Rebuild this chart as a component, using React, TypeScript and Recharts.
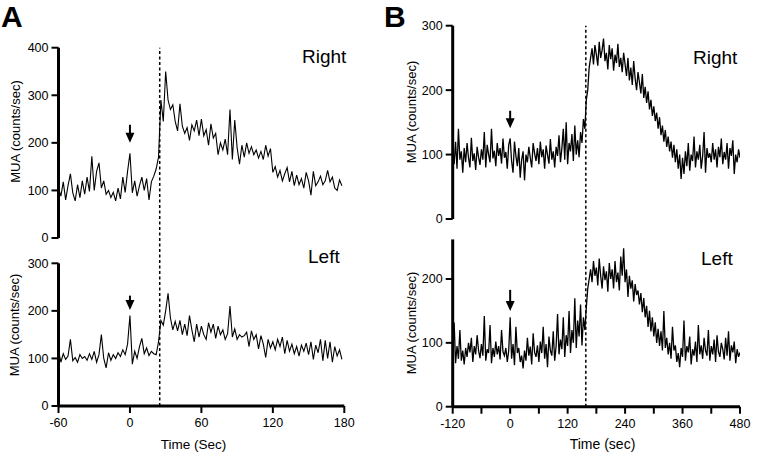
import React from 'react';
import { LineChart, Line, XAxis, YAxis, ReferenceLine } from 'recharts';

// sampling grids (seconds)
const A_START = -60;
const A_STEP = 2;
const B_START = -120;
const B_STEP = 3;

// Panel A, right hemisphere (counts/sec)
const A_RIGHT = [
  105, 88, 118, 80, 110, 135, 95, 78, 112, 85,
  120, 92, 128, 98, 172, 100, 140, 158, 105, 120,
  92, 100, 85, 96, 78, 105, 82, 128, 96, 140,
  178, 95, 120, 88, 110, 128, 100, 125, 80, 118,
  130, 145, 170, 290, 245, 350, 290, 270, 280, 245,
  225, 282, 235, 220, 232, 205, 238, 225, 248, 215,
  250, 215, 228, 195, 240, 210, 220, 175, 200, 185,
  208, 175, 270, 165, 248, 190, 155, 195, 170, 200,
  178, 192, 175, 185, 168, 182, 165, 195, 172, 188,
  138, 150, 128, 142, 120, 135, 148, 118, 140, 110,
  132, 112, 125, 105, 138, 120, 90, 140, 110, 118,
  130, 112, 120, 142, 118, 128, 105, 100, 122, 110,
];

// Panel A, left hemisphere
const A_LEFT = [
  118, 92, 110, 98, 105, 140, 95, 102, 92, 108,
  100, 104, 96, 110, 98, 115, 92, 108, 150, 100,
  80, 112, 96, 108, 100, 112, 104, 118, 108, 130,
  190, 88, 115, 100, 125, 142, 110, 122, 106, 115,
  110, 108, 135, 180, 170, 200, 237, 185, 160, 178,
  158, 180, 150, 172, 148, 190, 160, 135, 172, 145,
  168, 150, 140, 175, 155, 172, 142, 168, 150, 160,
  140, 152, 210, 145, 162, 140, 150, 145, 148, 155,
  125, 158, 140, 150, 120, 148, 130, 102, 140, 122,
  135, 118, 140, 125, 145, 110, 138, 115, 130, 110,
  125, 105, 128, 115, 132, 108, 135, 98, 128, 112,
  140, 95, 138, 100, 135, 92, 125, 105, 118, 98,
];

// Panel B, right hemisphere
const B_RIGHT = [
  100, 85, 120, 78, 140, 92, 105, 72, 110, 88,
  118, 95, 80, 126, 90, 102, 76, 112, 96, 84,
  108, 92, 135, 80, 115, 100, 88, 140, 94, 106,
  82, 118, 98, 110, 86, 125, 95, 104, 78, 115,
  125, 90, 72, 120, 98, 82, 110, 64, 92, 105,
  60, 100, 88, 112, 95, 80, 118, 102, 90, 110,
  85, 120, 96, 108, 78, 114, 100, 86, 124, 92,
  105, 80, 112, 98, 130, 88, 110, 140, 92, 150,
  85, 118, 105, 132, 90, 145, 100, 122, 96, 135,
  118, 155, 140, 185, 200, 235, 250, 265, 240, 270,
  255, 238, 275, 250, 262, 280, 245, 258, 232, 270,
  248, 265, 230, 255, 242, 272, 236, 250, 228, 258,
  240, 222, 250, 215, 235, 208, 245, 218, 200, 228,
  212, 195, 225, 188, 205, 180, 198, 170, 185, 160,
  175, 152, 165, 140, 158, 130, 145, 120, 138, 112,
  128, 105, 120, 95, 115, 88, 108, 78, 100, 62,
  95, 70, 105, 82, 118, 75, 100, 90, 128, 80,
  105, 92, 115, 78, 98, 135, 72, 110, 95, 102,
  88, 118, 92, 108, 80, 112, 96, 125, 85, 104,
  92, 118, 78, 110, 98, 122, 70, 100, 88, 108,
  95,
];

// Panel B, left hemisphere
const B_LEFT = [
  80, 132, 68, 95, 75, 120, 72, 88, 66, 92,
  78, 100, 85, 108, 70, 95, 82, 112, 88, 76,
  98, 80, 142, 72, 90, 84, 128, 68, 92, 78,
  102, 82, 95, 74, 120, 86, 80, 92, 70, 88,
  140, 75, 98, 65, 125, 84, 92, 70, 80, 60,
  88, 72, 108, 80, 94, 66, 115, 85, 78, 96,
  70, 102, 84, 125, 75, 98, 62, 110, 88, 80,
  118, 72, 95, 145, 82, 105, 90, 140, 78, 112,
  95, 150, 84, 120, 100, 170, 92, 135, 110, 160,
  96, 140, 120, 155, 185, 200, 215, 195, 228, 205,
  218, 190, 232, 205, 185, 220, 198, 212, 180, 225,
  200, 215, 185, 228, 195, 210, 182, 235, 205, 248,
  195, 215, 172, 205, 185, 198, 165, 192, 175, 182,
  160, 178, 148, 170, 140, 158, 125, 150, 118, 140,
  110, 132, 100, 122, 95, 118, 88, 150, 92, 108,
  82, 100, 75, 125, 88, 96, 70, 84, 62, 92,
  78, 135, 72, 95, 85, 110, 66, 90, 80, 102,
  70, 128, 82, 96, 75, 108, 88, 80, 120, 72,
  95, 82, 105, 70, 112, 86, 78, 100, 90, 74,
  108, 80, 118, 72, 96, 85, 102, 68, 90, 78,
  85,
];

const A_X_TICKS = [-60, 0, 60, 120, 180];
const B_X_TICKS = [-120, -60, 0, 60, 120, 180, 240, 300, 360, 420, 480];
const STIM_A = 25;
const STIM_B = 158;

const W = 766;
const H = 456;
const FONT = '"Liberation Sans", Arial, Helvetica, sans-serif';
const Y_W = 50;
const X_H = 30;

const toRows = (vals: number[], start: number, step: number) =>
  vals.map((v, i) => ({ t: start + i * step, v }));

const Arrow = (p: any) => {
  const x = p.x1;
  const top = Math.min(p.y1, p.y2);
  const tip = Math.max(p.y1, p.y2);
  return (
    <g>
      <line x1={x} x2={x} y1={top} y2={tip - 6} stroke="#000" strokeWidth={2} />
      <polygon points={`${x - 4.5},${tip - 10} ${x + 4.5},${tip - 10} ${x},${tip}`} fill="#000" />
    </g>
  );
};

type Rect = { left: number; top: number; right: number; bottom: number };

const Trace = ({
  rows, xDomain, xTicks, yDomain, yTicks, rect, showX, stimX, stimTo, arrow, xLabelEvery, lineW,
}: {
  rows: { t: number; v: number }[];
  xDomain: [number, number];
  xTicks: number[];
  yDomain: [number, number];
  yTicks: number[];
  rect: Rect;
  showX: boolean;
  stimX: number;
  stimTo?: number;
  arrow: [number, number];
  xLabelEvery?: number;
  lineW: number;
}) => {
  const margin = {
    left: rect.left - Y_W,
    top: rect.top,
    right: W - rect.right,
    bottom: H - rect.bottom - (showX ? X_H : 0),
  };
  return (
    <div style={{ position: 'absolute', left: 0, top: 0 }}>
      <LineChart width={W} height={H} data={rows} margin={margin}>
        <XAxis
          dataKey="t"
          type="number"
          domain={xDomain}
          ticks={xTicks}
          interval={0}
          allowDataOverflow
          hide={!showX}
          height={X_H}
          axisLine={{ stroke: '#000', strokeWidth: 3 }}
          tickLine={{ stroke: '#000', strokeWidth: 2 }}
          tickSize={7}
          tickMargin={5}
          tick={{ fill: '#000', fontSize: 12.5, fontFamily: FONT }}
          tickFormatter={(v: number) => (xLabelEvery && v % xLabelEvery !== 0 ? '' : String(v))}
        />
        <YAxis
          type="number"
          domain={yDomain}
          ticks={yTicks}
          interval={0}
          allowDataOverflow
          width={Y_W}
          axisLine={{ stroke: '#000', strokeWidth: 3 }}
          tickLine={{ stroke: '#000', strokeWidth: 2 }}
          tickSize={7}
          tickMargin={3}
          tick={{ fill: '#000', fontSize: 12.5, fontFamily: FONT }}
        />
        {stimTo !== undefined && (
          <ReferenceLine
            segment={[{ x: stimX, y: 0 }, { x: stimX, y: stimTo }]}
            ifOverflow="visible"
            stroke="#000"
            strokeWidth={1.5}
            strokeDasharray="3 2.5"
          />
        )}
        <ReferenceLine
          segment={[{ x: 0, y: arrow[0] }, { x: 0, y: arrow[1] }]}
          ifOverflow="visible"
          shape={Arrow}
        />
        <Line
          dataKey="v"
          type="linear"
          stroke="#000"
          strokeWidth={lineW}
          dot={false}
          isAnimationActive={false}
        />
      </LineChart>
    </div>
  );
};

const A_TOP: Rect = { left: 58.5, top: 47.7, right: 344.3, bottom: 238 };
const A_BOT: Rect = { left: 58.5, top: 263.3, right: 344.3, bottom: 406 };
const B_TOP: Rect = { left: 452.7, top: 25.7, right: 740, bottom: 219 };
const B_BOT: Rect = { left: 452.7, top: 239.4, right: 740, bottom: 406.7 };

// dashed stimulus line runs from the lower plot up to the top of the upper plot
const reach = (yMax: number, bot: Rect, top: Rect) =>
  (yMax * (bot.bottom - top.top)) / (bot.bottom - bot.top);

const App = () => {
  const textStyle = { fontFamily: FONT, fill: '#000' };
  return (
    <div style={{ position: 'absolute', left: 0, top: 0, width: W, height: H, background: '#fff' }}>
      <Trace rows={toRows(A_RIGHT, A_START, A_STEP)} xDomain={[-60, 180]} xTicks={A_X_TICKS}
        yDomain={[0, 400]} yTicks={[0, 100, 200, 300, 400]} rect={A_TOP} showX={false}
        stimX={STIM_A} arrow={[238, 200]} lineW={1.1} />
      <Trace rows={toRows(A_LEFT, A_START, A_STEP)} xDomain={[-60, 180]} xTicks={A_X_TICKS}
        yDomain={[0, 300]} yTicks={[0, 100, 200, 300]} rect={A_BOT} showX
        stimX={STIM_A} stimTo={reach(300, A_BOT, A_TOP)} arrow={[232, 202]} lineW={1.1} />
      <Trace rows={toRows(B_RIGHT, B_START, B_STEP)} xDomain={[-120, 480]} xTicks={B_X_TICKS}
        yDomain={[0, 300]} yTicks={[0, 100, 200, 300]} rect={B_TOP} showX={false}
        stimX={STIM_B} arrow={[168, 141]} lineW={1.3} />
      <Trace rows={toRows(B_LEFT, B_START, B_STEP)} xDomain={[-120, 480]} xTicks={B_X_TICKS}
        yDomain={[0, 262]} yTicks={[0, 100, 200]} rect={B_BOT} showX xLabelEvery={120}
        stimX={STIM_B} stimTo={reach(262, B_BOT, B_TOP)} arrow={[183, 150]} lineW={1.3} />
      <svg width={W} height={H} style={{ position: 'absolute', left: 0, top: 0, pointerEvents: 'none' }}>
        <text x={1} y={27} fontSize={30} fontWeight="bold" style={textStyle}>A</text>
        <text x={384} y={27} fontSize={30} fontWeight="bold" style={textStyle}>B</text>
        <text x={302} y={63} fontSize={19} style={textStyle}>Right</text>
        <text x={308} y={263} fontSize={19} style={textStyle}>Left</text>
        <text x={693} y={64} fontSize={19} style={textStyle}>Right</text>
        <text x={701} y={265} fontSize={19} style={textStyle}>Left</text>
        <text transform="translate(15,131.5) rotate(-90)" textAnchor="middle" dominantBaseline="central" fontSize={13} style={textStyle}>MUA (counts/sec)</text>
        <text transform="translate(14.5,325) rotate(-90)" textAnchor="middle" dominantBaseline="central" fontSize={13} style={textStyle}>MUA (counts/sec)</text>
        <text transform="translate(411,112) rotate(-90)" textAnchor="middle" dominantBaseline="central" fontSize={13} style={textStyle}>MUA (counts/sec)</text>
        <text transform="translate(411,323) rotate(-90)" textAnchor="middle" dominantBaseline="central" fontSize={13} style={textStyle}>MUA (counts/sec)</text>
        <text x={193.5} y={449} textAnchor="middle" fontSize={13.5} style={textStyle}>Time (Sec)</text>
        <text x={602.5} y={449} textAnchor="middle" fontSize={14} style={textStyle}>Time (sec)</text>
      </svg>
    </div>
  );
};

export default App;
